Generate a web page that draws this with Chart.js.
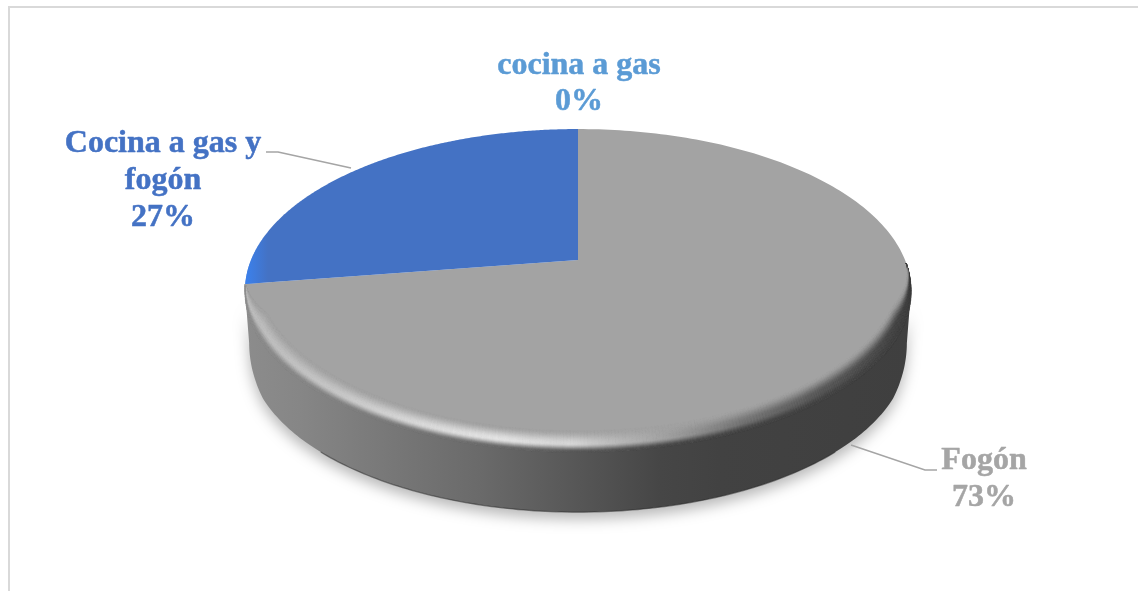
<!DOCTYPE html>
<html><head><meta charset="utf-8">
<style>html,body{margin:0;padding:0;background:#fff}canvas{display:block}</style>
<script src="https://cdn.jsdelivr.net/npm/chart.js@4"></script>
</head><body>
<canvas id="c" width="1138" height="591"></canvas>
<script>
const categories = ['Fogón', 'cocina a gas', 'Cocina a gas y fogón'];
const values = [72.6, 0, 27.4];
const sliceColors = ['#a3a3a3', '#5b9bd5', '#4472c4'];
const labelFont = 'bold 32px "Liberation Serif"';
const labelLayout = [
  {lines:['Fogón'], x:984, y:461, lh:37, color:'#a5a5a5', leader:[[851,445],[925,470],[937,470]]},
  {lines:['cocina a gas'], x:579, y:66, lh:36, color:'#5b9bd5'},
  {lines:['Cocina a gas y','fogón'], x:163, y:144, lh:37, color:'#4472c4', leader:[[266,152],[278,152],[351,168]]}
];
const RX = 327, SY = 155.7, K = 0.189, WALL = 63, BEVEL = 21, INSET = 11;
const wallStops = [[245,140],[300,134],[400,118],[480,106],[540,94],[600,82],[660,70],[720,66],[911,63]];
const peakStops = [[245,190],[330,200],[420,220],[500,230],[570,215],[620,185],[670,160],[740,118],[820,88],[911,66]];
function table(t,x){
  if(x<=t[0][0])return t[0][1];
  for(let i=1;i<t.length;i++) if(x<=t[i][0]){
    const f=(x-t[i-1][0])/(t[i][0]-t[i-1][0]);
    return t[i-1][1]+f*(t[i][1]-t[i-1][1]);
  }
  return t[t.length-1][1];
}
const g=v=>{const n=Math.round(v);return `rgb(${n},${n},${n})`};
function project(arc,a,scale){
  const u=Math.cos(a)*scale, v=Math.sin(a)*scale, w=1-K*v;
  return [arc.x+RX*u/w, arc.y+SY*v/w];
}
function tracePath(ctx,pts){
  ctx.beginPath();pts.forEach((p,i)=>i?ctx.lineTo(p[0],p[1]):ctx.moveTo(p[0],p[1]));ctx.closePath();
}
function range(a0,a1,n){const r=[];for(let i=0;i<=n;i++)r.push(a0+(a1-a0)*i/n);return r;}
const pie3d = {
  id:'pie3d',
  beforeDraw(chart){
    const ctx=chart.ctx;
    ctx.save();ctx.strokeStyle='#d9d9d9';ctx.lineWidth=2;
    ctx.beginPath();ctx.moveTo(9,591);ctx.lineTo(9,7);ctx.lineTo(1138,7);ctx.stroke();ctx.restore();
  },
  beforeDatasetsDraw(chart){
    const ctx=chart.ctx, arcs=chart.getDatasetMeta(0).data, c=arcs[0];
    const a0=0.19, a1=Math.PI-0.19;
    const bottom=range(a0,a1,200).map(a=>{
      const p=project(c,a,0.988);
      const fall=Math.min(1,Math.sin(a)/0.45);
      return [p[0],p[1]+WALL*(0.72+0.28*fall)];
    });
    const top=range(a1,a0,200).map(a=>project(c,a,1));
    const wall=bottom.concat(top);
    const grad=ctx.createLinearGradient(245,0,911,0);
    wallStops.forEach(s=>grad.addColorStop((s[0]-245)/666,g(s[1])));
    ctx.save();
    ctx.shadowColor='rgba(0,0,0,0.28)';ctx.shadowBlur=14;ctx.shadowOffsetY=7;
    tracePath(ctx,wall);ctx.fillStyle=grad;ctx.fill();
    ctx.restore();
    ctx.save();
    ctx.beginPath();bottom.slice(45,156).forEach((p,i)=>i?ctx.lineTo(p[0],p[1]):ctx.moveTo(p[0],p[1]));
    ctx.strokeStyle='rgba(40,40,40,0.5)';ctx.lineWidth=1.3;ctx.stroke();
    ctx.restore();
    arcs.forEach((arc,idx)=>{
      if(arc.endAngle-arc.startAngle<1e-6)return;
      const pts=[[arc.x,arc.y]].concat(range(arc.startAngle,arc.endAngle,240).map(a=>project(arc,a,1)));
      tracePath(ctx,pts);ctx.fillStyle=arc.options.backgroundColor;ctx.fill();
      if(idx===2){
        ctx.save();tracePath(ctx,pts);ctx.clip();
        const b=ctx.createLinearGradient(245,0,268,0);
        b.addColorStop(0,'rgba(58,130,240,0.95)');b.addColorStop(1,'rgba(58,130,240,0)');
        ctx.fillStyle=b;ctx.fillRect(240,200,40,100);ctx.restore();
      }
    });
    // bevel: rings between the rim and a copy of it moved up and inward
    const clipPts=range(0,Math.PI*2,400).map(a=>project(c,a,1.003));
    ctx.save();tracePath(ctx,clipPts);ctx.clip();
    const base=163, rings=21, dA=Math.PI/360;
    const start=0.02, end=arcs[0].endAngle;
    const taper=a=>Math.max(0,Math.min(1,(a-start)/0.4,(end-a)/0.3));
    for(let a=start;a<end-dA*0.5;a+=dA){
      const p0=project(c,a,1), p1=project(c,a+dA,1);
      const c0=Math.cos(a), c1=Math.cos(a+dA), t0=taper(a), t1=taper(a+dA);
      const x=(p0[0]+p1[0])/2;
      const wallV=table(wallStops,x), peak=table(peakStops,x);
      for(let i=0;i<rings;i++){
        const t=(i+0.5)/rings;
        let v;
        if(t<0.62){const s=t/0.62;v=base+(peak-base)*s*s*(3-2*s);}
        else{const s=(t-0.62)/0.38;v=peak+(wallV-peak)*s*s*(3-2*s);}
        const f0=1-i/rings, f1=i===rings-1?-0.06:1-(i+1)/rings;
        ctx.beginPath();
        ctx.moveTo(p0[0]-c0*INSET*f0*t0,p0[1]-BEVEL*f0*t0);
        ctx.lineTo(p1[0]-c1*INSET*f0*t1,p1[1]-BEVEL*f0*t1);
        ctx.lineTo(p1[0]-c1*INSET*f1*t1,p1[1]-BEVEL*f1*t1);
        ctx.lineTo(p0[0]-c0*INSET*f1*t0,p0[1]-BEVEL*f1*t0);ctx.closePath();
        ctx.fillStyle=g(v);ctx.strokeStyle=g(v);ctx.lineWidth=0.5;ctx.fill();ctx.stroke();
      }
    }
    ctx.restore();
    return false;
  },
  afterDraw(chart){
    const ctx=chart.ctx, ds=chart.data.datasets[0].data, total=ds.reduce((a,b)=>a+b,0);
    ctx.save();ctx.font=labelFont;ctx.textAlign='center';ctx.textBaseline='middle';
    labelLayout.forEach((l,i)=>{
      if(l.leader){
        ctx.strokeStyle='#a5a5a5';ctx.lineWidth=1.5;ctx.beginPath();
        l.leader.forEach((p,j)=>j?ctx.lineTo(p[0],p[1]):ctx.moveTo(p[0],p[1]));ctx.stroke();
      }
      ctx.fillStyle=l.color;ctx.strokeStyle=l.color;ctx.lineWidth=0.5;ctx.lineJoin='round';
      const text=l.lines.concat([Math.round(ds[i]/total*100)+'%']);
      text.forEach((s,j)=>{ctx.fillText(s,l.x,l.y+j*l.lh);ctx.strokeText(s,l.x,l.y+j*l.lh);});
    });
    ctx.restore();
  }
};
new Chart(document.getElementById('c'),{
  type:'pie',
  data:{labels:categories,datasets:[{data:values,backgroundColor:sliceColors,borderWidth:0}]},
  options:{
    responsive:false,animation:false,devicePixelRatio:1,
    layout:{padding:{left:18,right:0,top:0,bottom:71}},
    plugins:{legend:{display:false},tooltip:{enabled:false},title:{display:false}}
  },
  plugins:[pie3d]
});
</script>
</body></html>
